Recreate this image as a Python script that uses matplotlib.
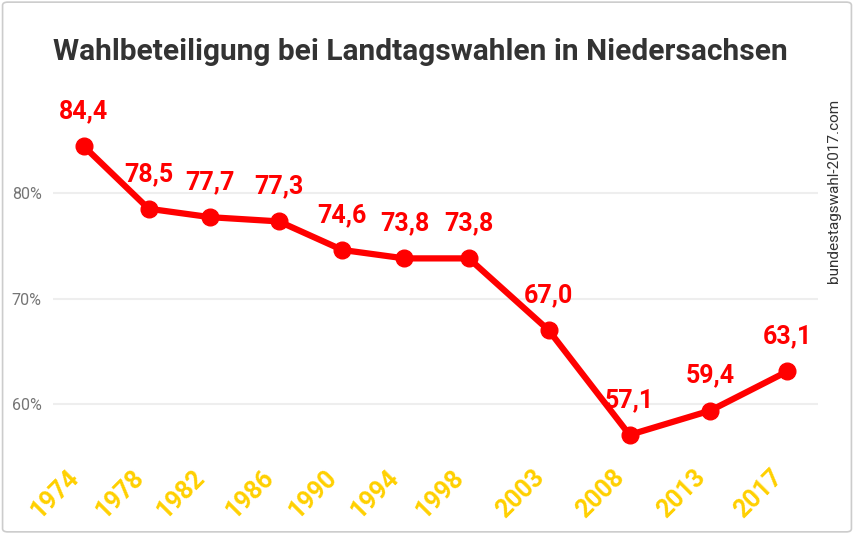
import matplotlib.pyplot as plt
import matplotlib.dates as mdates
from matplotlib.patches import FancyBboxPatch
from matplotlib.transforms import ScaledTranslation
from datetime import date

plt.rcParams["font.family"] = ["Roboto", "DejaVu Sans"]

# Wahltermine und Wahlbeteiligung in Prozent
election_dates = ["1974-06-09", "1978-06-04", "1982-03-21", "1986-06-15",
                  "1990-05-13", "1994-03-13", "1998-03-01", "2003-02-02",
                  "2008-01-27", "2013-01-20", "2017-10-15"]
year_labels = ["1974", "1978", "1982", "1986", "1990", "1994", "1998",
               "2003", "2008", "2013", "2017"]
turnout = [84.4, 78.5, 77.7, 77.3, 74.6, 73.8, 73.8, 67.0, 57.1, 59.4, 63.1]
y_ticks = [60, 70, 80]

RED = "#ff0000"
GOLD = "#ffd000"

xs = [mdates.date2num(date.fromisoformat(d)) for d in election_dates]

fig = plt.figure(figsize=(8.54, 5.34), dpi=100)
ax = fig.add_axes([0.062, 0.148, 0.896, 0.665])

ax.plot(xs, turnout, color=RED, linewidth=4.5, marker="o",
        markersize=12, solid_joinstyle="round", zorder=3)

for x, y in zip(xs, turnout):
    ax.annotate(f"{y:.1f}".replace(".", ","), (x, y), xytext=(0, 16.5),
                textcoords="offset points", ha="center", va="bottom",
                color=RED, fontsize=18, fontweight="bold")

ax.set_xlim(mdates.date2num(date(1972, 7, 12)),
            mdates.date2num(date(2019, 9, 12)))
ax.set_ylim(55.2, 88.8)
ax.set_yticks(y_ticks)
ax.set_yticklabels([f"{v}%" for v in y_ticks])
ax.set_xticks(xs)
ax.set_xticklabels(year_labels, rotation=45, ha="right", va="top",
                   color=GOLD, fontsize=18, fontweight="bold")
shift = ScaledTranslation(0.13, 0, fig.dpi_scale_trans)
for lab in ax.get_xticklabels():
    lab.set_transform(lab.get_transform() + shift)
ax.tick_params(axis="y", length=0, pad=8, labelcolor="#757575", labelsize=11.5)
ax.tick_params(axis="x", length=0, pad=7)
ax.grid(axis="y", color="#eeeeee", linewidth=1.5)
ax.set_axisbelow(True)
for s in ax.spines.values():
    s.set_visible(False)

fig.text(0.4924, 1 - 60 / 534, "Wahlbeteiligung bei Landtagswahlen in Niedersachsen",
         ha="center", va="baseline", fontsize=21.5, fontweight="bold",
         color="#333333")
fig.text(0.9766, 0.642, "bundestagswahl-2017.com", rotation=90,
         ha="center", va="center", fontsize=11, color="#333333")

fig.patches.append(FancyBboxPatch((0.003, 0.004), 0.994, 0.992,
                                  boxstyle="round,pad=0,rounding_size=0.006",
                                  transform=fig.transFigure, fill=False,
                                  edgecolor="#cccccc", linewidth=1.2))

fig.savefig("out.png", dpi=100)
